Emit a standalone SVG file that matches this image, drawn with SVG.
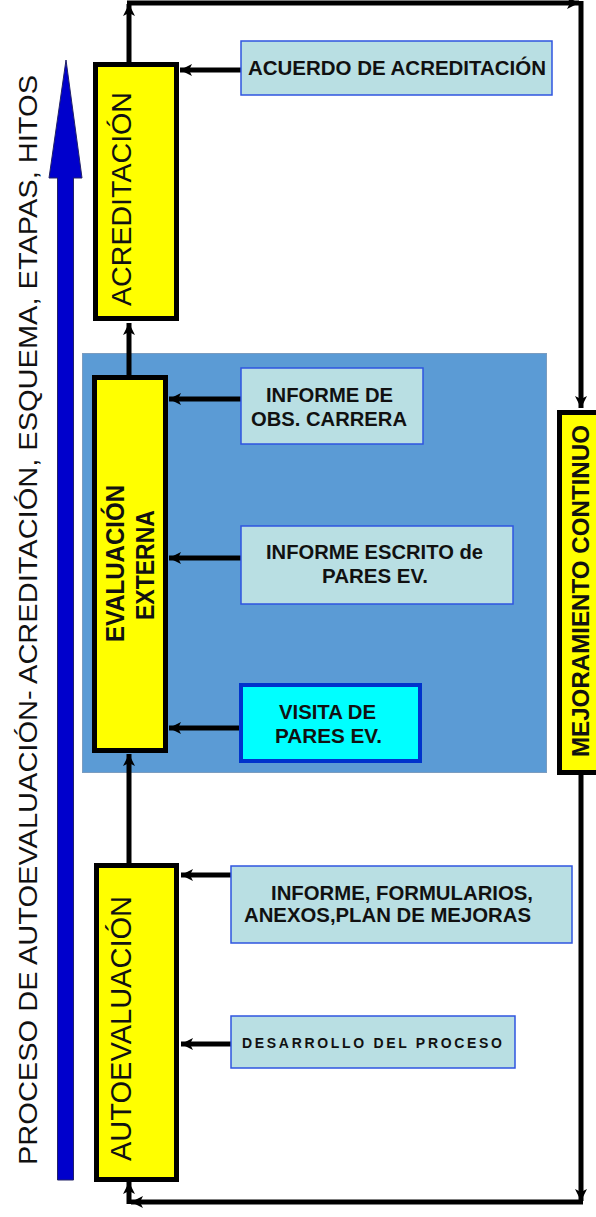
<svg xmlns="http://www.w3.org/2000/svg" width="596" height="1217" viewBox="0 0 596 1217">
<style>
.ybox{fill:#ffff00;stroke:#000;stroke-width:5}
.lbox{fill:#b9dfe3;stroke:#2f55e0;stroke-width:1.5}
.t{font-family:"Liberation Sans",Arial,sans-serif;fill:#111}
.b{font-weight:bold}
.con{stroke:#000;stroke-width:5;fill:none}
</style>
<defs>
<marker id="ah" markerUnits="userSpaceOnUse" markerWidth="14" markerHeight="14" refX="12" refY="7" orient="auto">
<path d="M0,1 L12,7 L0,13 L3,7 Z" fill="#000"/>
</marker>
</defs>
<rect width="596" height="1217" fill="#fff"/>

<g id="titulo">
<path d="M57.5,1180 L57.5,178 L49,178 L66,60 L82,178 L73.5,178 L73.5,1180 Z" fill="#0000cc" stroke="#222266" stroke-width="1"/>
<text class="t" transform="translate(37,1165) rotate(-90)" font-size="25" textLength="1090" lengthAdjust="spacingAndGlyphs" fill="#101030">PROCESO  DE AUTOEVALUACIÓN- ACREDITACIÓN, ESQUEMA, ETAPAS, HITOS</text>
</g>

<g id="fondo-evaluacion">
<rect x="82.5" y="353.5" width="464" height="419" fill="#5b9bd5" stroke="#7a9cc0" stroke-width="1"/>
</g>

<g id="connectors">
<path class="con" d="M127,3 L579,3" marker-end="url(#ah)"/>
<line class="con" x1="129" y1="62" x2="129" y2="4" marker-end="url(#ah)"/>
<path class="con" d="M581,1 L581,408" marker-end="url(#ah)"/>
<path class="con" d="M581,775 L581,1201" marker-end="url(#ah)"/>
<path class="con" d="M583,1202 L131,1202" marker-end="url(#ah)"/>
<path class="con" d="M129,1204 L129,1182" marker-end="url(#ah)"/>
<path class="con" d="M129,863 L129,754" marker-end="url(#ah)"/>
<path class="con" d="M129,375 L129,323" marker-end="url(#ah)"/>
<path class="con" d="M241,70 L180,70" marker-end="url(#ah)"/>
<path class="con" d="M241,399 L169,399" marker-end="url(#ah)"/>
<path class="con" d="M241,558 L169,558" marker-end="url(#ah)"/>
<path class="con" d="M239,728 L169,728" marker-end="url(#ah)"/>
<path class="con" d="M231,875 L181,875" marker-end="url(#ah)"/>
<path class="con" d="M231,1044 L181,1044" marker-end="url(#ah)"/>
</g>

<g id="acreditacion">
<rect class="ybox" x="95.5" y="64.5" width="81" height="254"/>
<text class="t" transform="translate(131,306) rotate(-90)" font-size="28" textLength="214" lengthAdjust="spacingAndGlyphs">ACREDITACIÓN</text>
</g>

<g id="acuerdo">
<rect class="lbox" x="241" y="41" width="311" height="54"/>
<text class="t b" x="248" y="75" font-size="20" textLength="298" lengthAdjust="spacingAndGlyphs">ACUERDO DE ACREDITACIÓN</text>
</g>

<g id="evaluacion-externa">
<rect class="ybox" x="94.5" y="377.5" width="71" height="373"/>
<text class="t b" transform="translate(124,642) rotate(-90)" font-size="25" textLength="157" lengthAdjust="spacingAndGlyphs">EVALUACIÓN</text>
<text class="t b" transform="translate(154,620) rotate(-90)" font-size="25" textLength="110" lengthAdjust="spacingAndGlyphs">EXTERNA</text>
</g>

<g id="informe-obs">
<rect class="lbox" x="241" y="368" width="182" height="76"/>
<text class="t b" x="266" y="402" font-size="20" textLength="127" lengthAdjust="spacingAndGlyphs">INFORME DE</text>
<text class="t b" x="251" y="426" font-size="20" textLength="156" lengthAdjust="spacingAndGlyphs">OBS. CARRERA</text>
</g>

<g id="informe-escrito">
<rect class="lbox" x="241" y="526" width="272" height="78"/>
<text class="t b" x="266" y="559" font-size="20" textLength="217" lengthAdjust="spacingAndGlyphs">INFORME ESCRITO de</text>
<text class="t b" x="322" y="583" font-size="20" textLength="106" lengthAdjust="spacingAndGlyphs">PARES EV.</text>
</g>

<g id="visita">
<rect x="241" y="685" width="179" height="76" fill="#00ffff" stroke="#0033cc" stroke-width="4"/>
<text class="t b" x="279" y="719" font-size="20" textLength="97" lengthAdjust="spacingAndGlyphs">VISITA DE</text>
<text class="t b" x="275" y="743" font-size="20" textLength="107" lengthAdjust="spacingAndGlyphs">PARES EV.</text>
</g>

<g id="mejoramiento">
<rect class="ybox" x="559.5" y="412.5" width="42" height="360"/>
<text class="t b" transform="translate(589,757) rotate(-90)" font-size="23" textLength="332" lengthAdjust="spacingAndGlyphs">MEJORAMIENTO CONTINUO</text>
</g>

<g id="autoevaluacion">
<rect class="ybox" x="96.5" y="865.5" width="80" height="314"/>
<text class="t" transform="translate(131,1161) rotate(-90)" font-size="29" textLength="265" lengthAdjust="spacingAndGlyphs">AUTOEVALUACIÓN</text>
</g>

<g id="informe-formularios">
<rect class="lbox" x="231" y="866" width="341" height="77"/>
<text class="t b" x="271" y="900" font-size="20" textLength="262" lengthAdjust="spacingAndGlyphs">INFORME, FORMULARIOS,</text>
<text class="t b" x="244" y="922" font-size="20" textLength="287" lengthAdjust="spacingAndGlyphs">ANEXOS,PLAN DE MEJORAS</text>
</g>

<g id="desarrollo">
<rect class="lbox" x="231" y="1016" width="284" height="52"/>
<text class="t b" x="242" y="1048" font-size="14" textLength="260" lengthAdjust="spacing" fill="#222244">DESARROLLO  DEL PROCESO</text>
</g>
</svg>
